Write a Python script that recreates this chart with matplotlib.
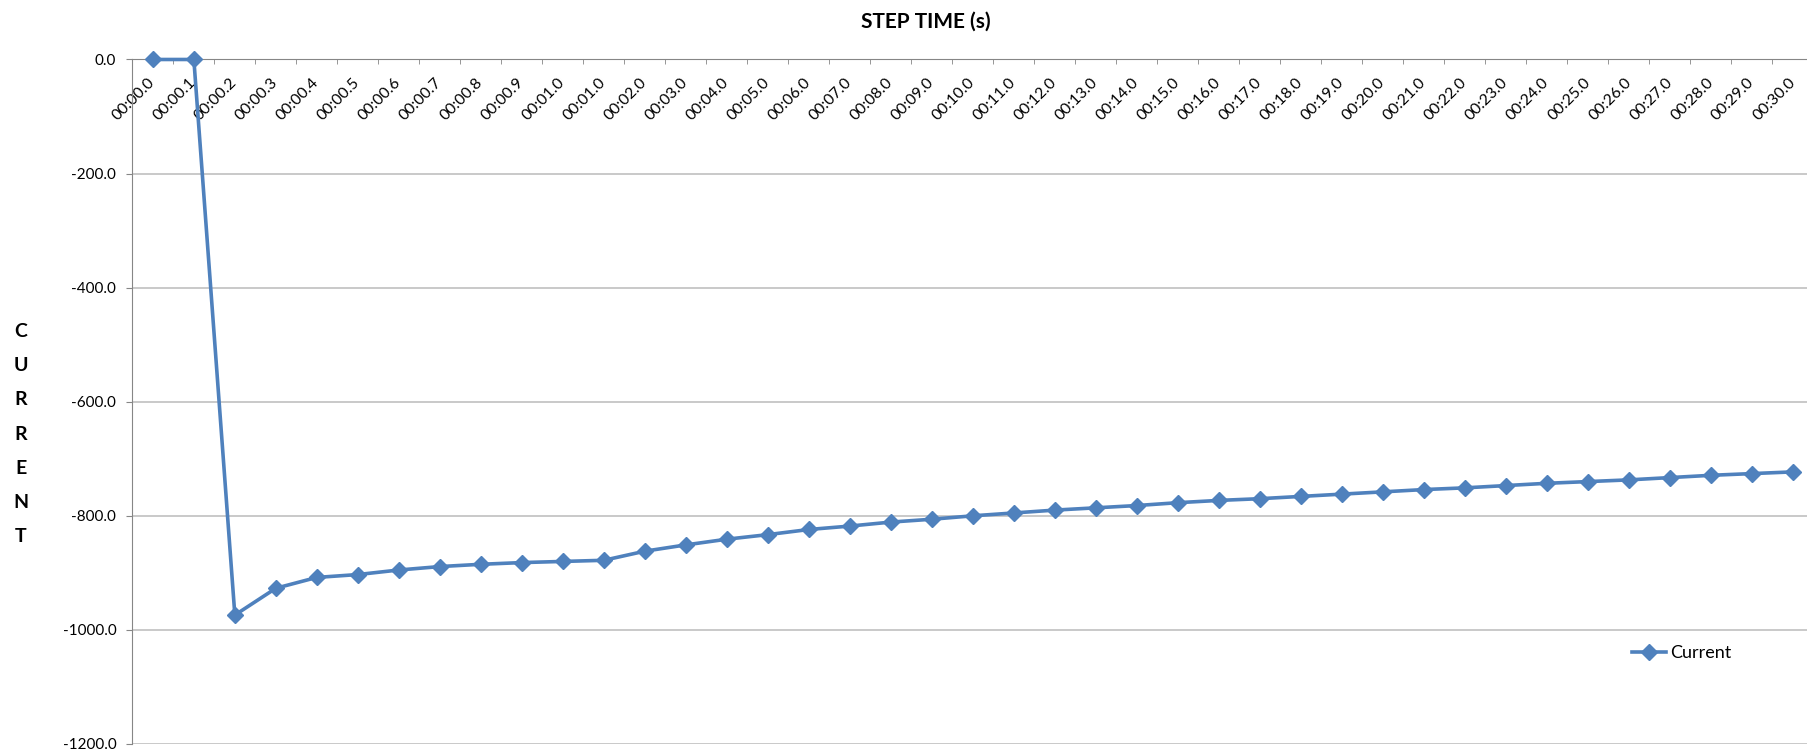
"""Current vs step time, redrawn from the exported spreadsheet chart."""
import matplotlib
matplotlib.use("Agg")
import matplotlib.pyplot as plt

# Category labels of the step time axis (as exported, incl. the repeated 00:01.0)
step_labels = [
    "00:00.0", "00:00.1", "00:00.2", "00:00.3", "00:00.4", "00:00.5",
    "00:00.6", "00:00.7", "00:00.8", "00:00.9", "00:01.0", "00:01.0",
    "00:02.0", "00:03.0", "00:04.0", "00:05.0", "00:06.0", "00:07.0",
    "00:08.0", "00:09.0", "00:10.0", "00:11.0", "00:12.0", "00:13.0",
    "00:14.0", "00:15.0", "00:16.0", "00:17.0", "00:18.0", "00:19.0",
    "00:20.0", "00:21.0", "00:22.0", "00:23.0", "00:24.0", "00:25.0",
    "00:26.0", "00:27.0", "00:28.0", "00:29.0", "00:30.0",
]

# Measured current for each step
current = [
    0, 0, -974, -927, -908, -903, -895, -889, -885, -882,
    -880, -878, -862, -851, -841, -833, -824, -818, -811, -806,
    -800, -795, -790, -786, -782, -777, -773, -770, -766, -762,
    -758, -754, -751, -747, -743, -740, -737, -733, -729, -726,
    -723,
]

y_ticks = [0, -200, -400, -600, -800, -1000, -1200]

BLUE = '#4F81BD'
AXIS_GREY = '#868686'
GRID_GREY = '#C0C0C0'


def main() -> None:
    plt.rcParams['font.family'] = ['Lato', 'DejaVu Sans']

    fig = plt.figure(figsize=(18.08, 7.53), dpi=100)
    ax = fig.add_axes([0.0732, 0.0120, 0.9298, 0.9090])

    x = list(range(len(step_labels)))
    ax.plot(x, current, color=BLUE, lw=2.6, marker='D', ms=8.5,
            mfc=BLUE, mec=BLUE, label='Current', zorder=3, clip_on=False)

    ax.set_xlim(-0.5, len(step_labels) - 0.5)
    ax.set_ylim(-1200, 0)

    # x axis crosses at 0, which is the top of the plot
    ax.spines['bottom'].set_position(('data', 0))
    ax.spines['bottom'].set_color(AXIS_GREY)
    ax.spines['left'].set_color(AXIS_GREY)
    ax.spines['top'].set_visible(False)
    ax.spines['right'].set_visible(False)

    ax.set_xticks(x)
    ax.set_xticklabels(step_labels, rotation=45, ha='right', va='center',
                       rotation_mode='anchor', fontsize=11.3)
    ax.set_xticks([i - 0.5 for i in range(len(step_labels) + 1)], minor=True)
    ax.tick_params(axis='x', which='major', length=0, pad=14.8)
    ax.tick_params(axis='x', which='minor', length=3.6, color=AXIS_GREY)

    ax.set_yticks(y_ticks)
    ax.set_yticklabels([f"{v:.1f}" for v in y_ticks], fontsize=11)
    ax.tick_params(axis='y', length=4.3, color=AXIS_GREY, pad=7.2)
    ax.yaxis.grid(True, color=GRID_GREY, lw=1.2)
    ax.set_axisbelow(True)

    fig.text(0.5122, 0.9708, "STEP TIME (s)", ha='center', va='center',
             fontsize=15, fontweight='bold')
    fig.text(0.0115, 0.4236, "C\nU\nR\nR\nE\nN\nT", ha='center', va='center',
             fontsize=14, fontweight='bold', linespacing=2.22)

    ax.legend(loc='center left', bbox_to_anchor=(0.9025, 0.1324),
              bbox_transform=fig.transFigure, frameon=False, fontsize=13,
              handlelength=1.9, handletextpad=0.2, borderpad=0,
              borderaxespad=0)

    fig.savefig('out.png', dpi=100)
    plt.close(fig)


if __name__ == "__main__":
    main()
